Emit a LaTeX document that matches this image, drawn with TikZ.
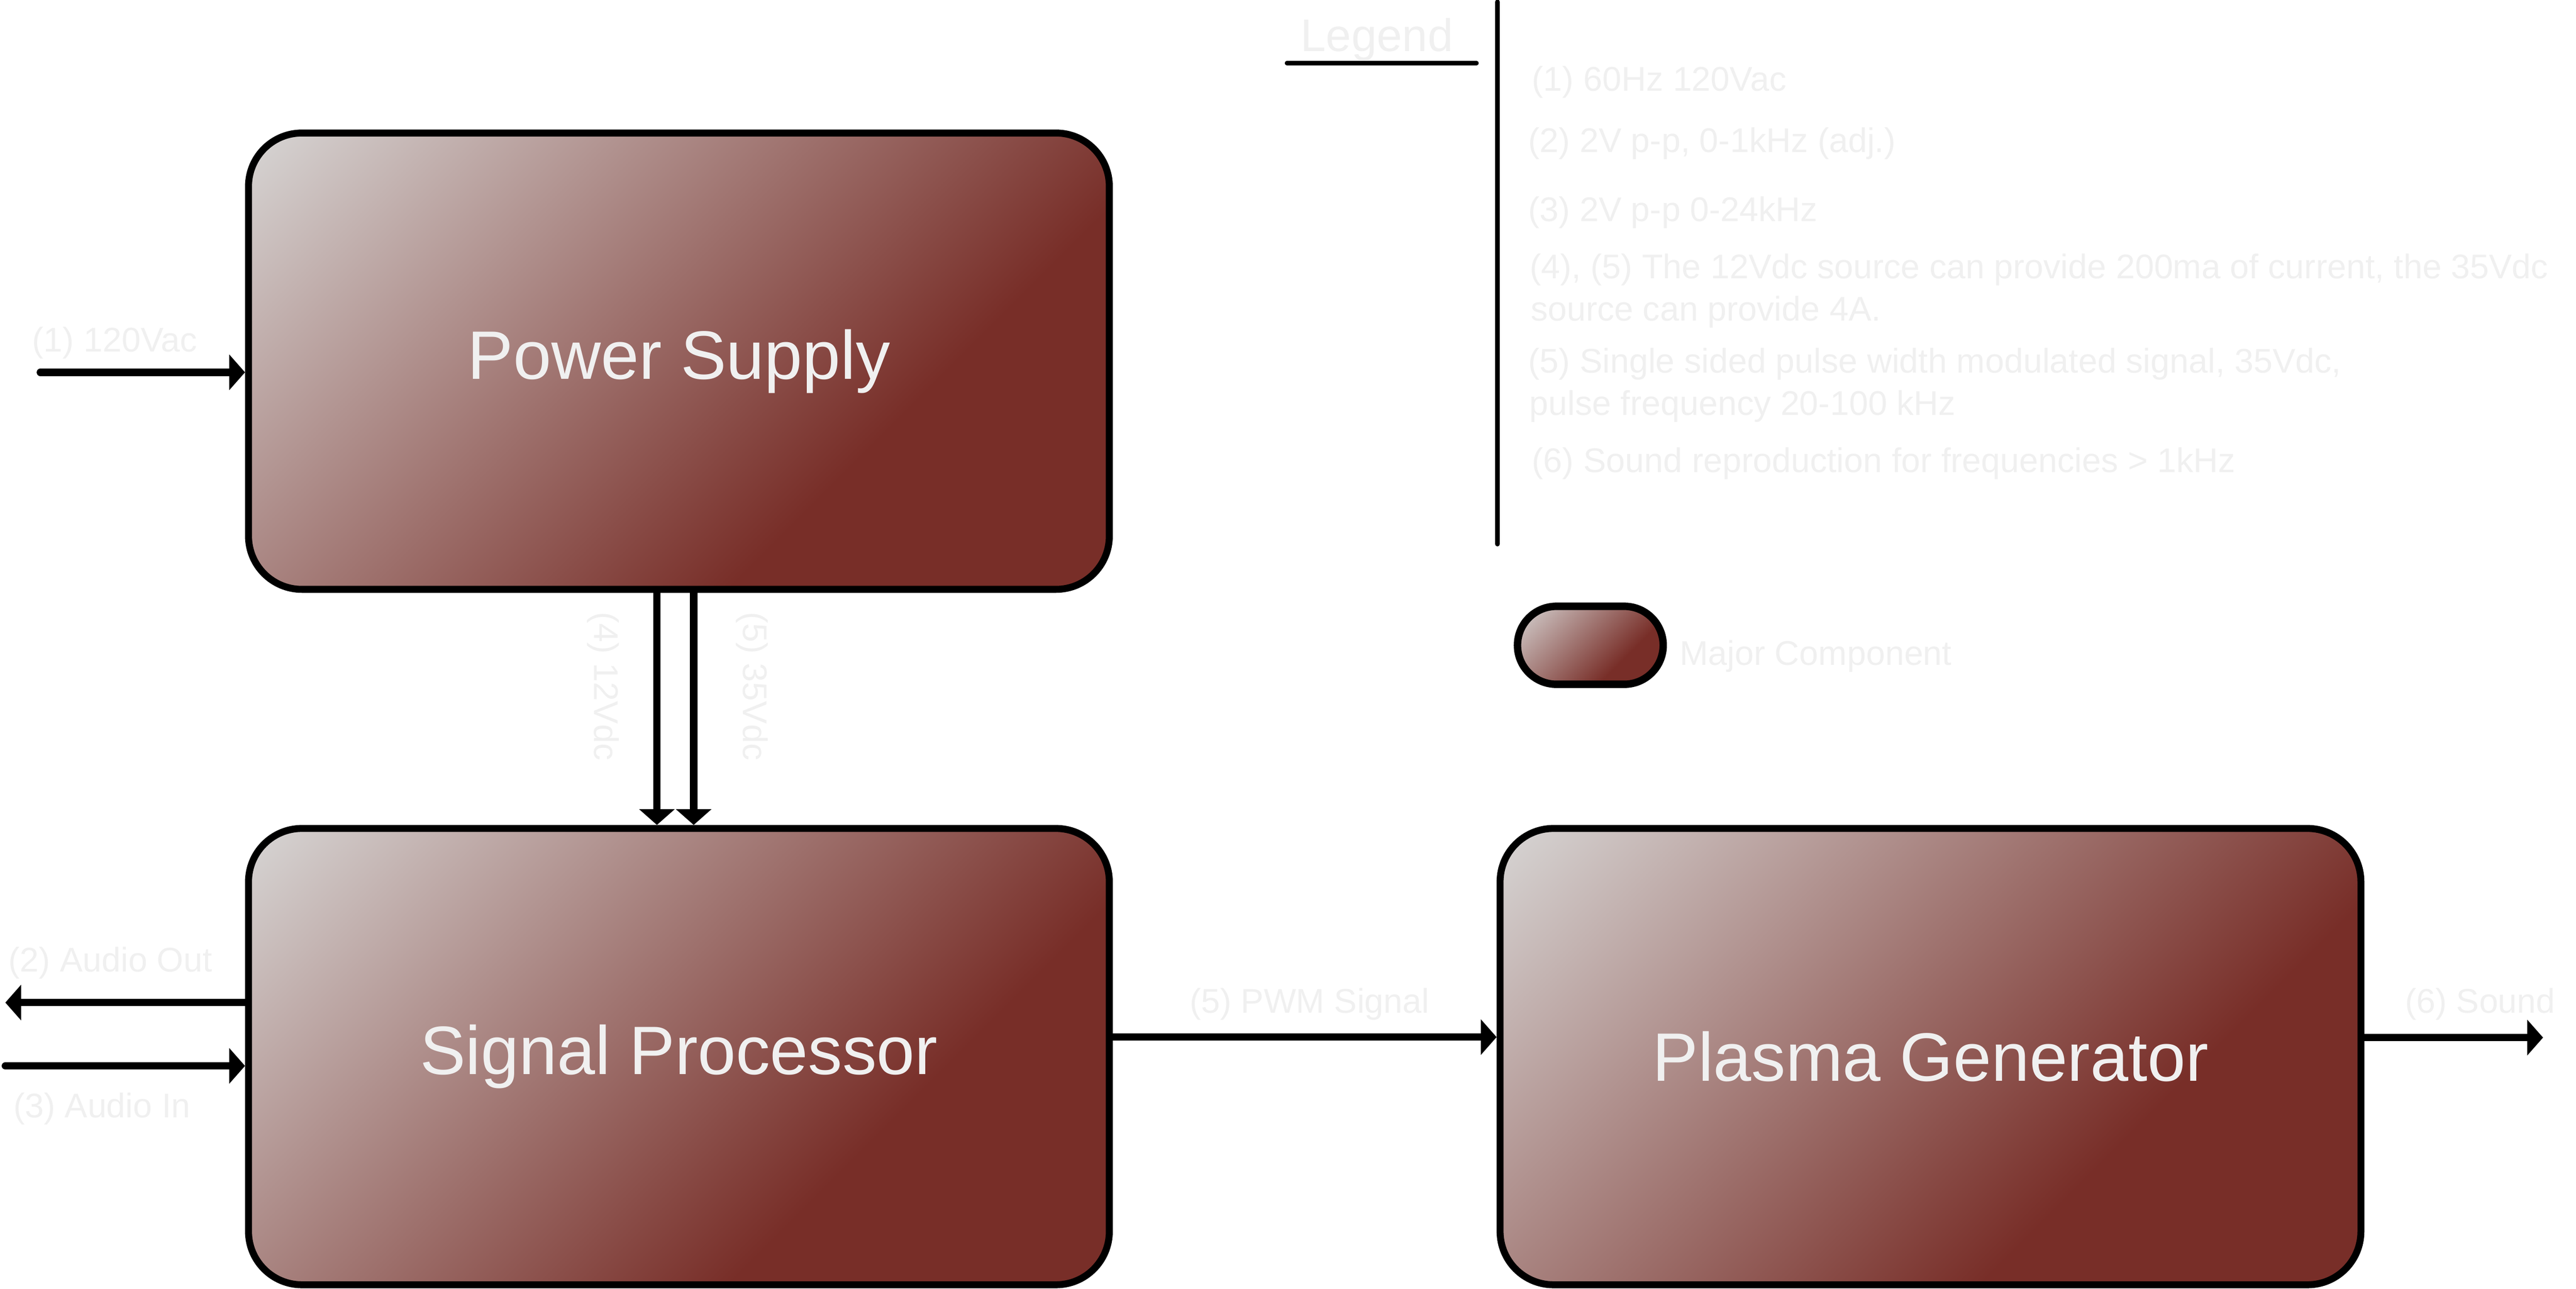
\documentclass[tikz,border=0pt]{standalone}
\usepackage{fontspec}
\setmainfont{Liberation Sans}
\usepackage{xcolor}
\usepackage{tikz}
\usetikzlibrary{arrows.meta}

\definecolor{shlight}{RGB}{214,212,211}
\definecolor{shdark}{RGB}{120,46,40}
\definecolor{lbl}{RGB}{240,240,240}
\pgfdeclareverticalshading{boxshade}{100bp}{color(0bp)=(shdark); color(35bp)=(shdark); color(85bp)=(shlight); color(100bp)=(shlight)}

\begin{document}
\begin{tikzpicture}
				\tikzset{
					block/.style={rounded corners=0.575cm, draw=black, line width=0.075cm, shade, shading=boxshade, shading angle=45, minimum width=9.275cm, minimum height=4.915cm, inner sep=0pt, text=lbl, font=\fontsize{21}{25}\selectfont},
					wire/.style={line width=0.08cm, line cap=round, -{Triangle[length=1.7mm,width=3.75mm]}},
					lab/.style={inner sep=0pt, text=lbl, font=\fontsize{10.5}{13}\selectfont}
				}
				\useasboundingbox (0,0) rectangle (27.755,-13.88);
				
				% ---- Blocks ----
				\node[block] (psu) at (7.315,-3.89) {Power Supply};
				\node[block] (sig) at (7.315,-11.38) {Signal Processor};
				\node[block] (gen) at (20.80,-11.38) {Plasma Generator};
				
				% ---- Mains in ----
				\coordinate (acin) at (0.435,-4.01);
				\draw[wire] (acin) -- (acin -| psu.west);
				\node[lab, anchor=base west] (l1) at (0.34,-3.79) {(1) 120Vac};
				
				% ---- Supply rails (4), (5) ----
				\coordinate (r12) at ([xshift=-0.237cm]psu.south);
				\coordinate (r35) at ([xshift=0.159cm]psu.south);
				\draw[wire] (r12) -- (r12 |- sig.north);
				\draw[wire] (r35) -- (r35 |- sig.north);
				\node[lab, rotate=-90] (l4) at (6.50,-7.39) {(4) 12Vdc};
				\node[lab, rotate=-90] (l5) at (8.10,-7.39) {(5) 35Vdc};
				
				% ---- Audio out / in ----
				\coordinate (aout) at (0.0575,-10.798);
				\coordinate (ain) at (0.058,-11.48);
				\draw[wire] (aout -| sig.west) -- (aout);
				\draw[wire] (ain) -- (ain -| sig.west);
				\node[lab, anchor=base west] (l2) at (0.085,-10.465) {(2) Audio Out};
				\node[lab, anchor=base west] (l3) at (0.1375,-12.035) {(3) Audio In};
				
				% ---- PWM and sound ----
				\coordinate (pwm) at (14,-11.17);
				\coordinate (snd) at (27.40,-11.175);
				\draw[wire] (pwm -| sig.east) -- (pwm -| gen.west);
				\draw[wire] (snd -| gen.east) -- (snd);
				\node[lab, anchor=base] (l5b) at (14.11,-10.91) {(5) PWM Signal};
				\node[lab, anchor=base west] (l6) at (25.905,-10.91) {(6) Sound};
				
				% ---- Legend ----
				\node[lab, font=\fontsize{14}{17}\selectfont, anchor=base] (legt) at (14.835,-0.55) {Legend};
				\coordinate (ul1) at (13.865,-0.68);
				\coordinate (ul2) at (15.91,-0.68);
				\draw[line width=0.045cm, line cap=round] (ul1) -- (ul2);
				\coordinate (sep1) at (16.135,-0.02);
				\coordinate (sep2) at (16.135,-5.86);
				\draw[line width=0.05cm, line cap=round] (sep1) -- (sep2);
				
				\node[lab, anchor=base west] (k1) at (16.50,-0.98) {(1) 60Hz 120Vac};
				\node[lab, anchor=base west] (k2) at (16.46,-1.64) {(2) 2V p-p, 0-1kHz (adj.)};
				\node[lab, anchor=base west] (k3) at (16.46,-2.385) {(3) 2V p-p 0-24kHz};
				\node[lab, anchor=base west] (k4) at (16.475,-3.00) {(4), (5) The 12Vdc source can provide 200ma of current, the 35Vdc};
				\node[lab, anchor=base west] (k4b) at (16.485,-3.455) {source can provide 4A.};
				\node[lab, anchor=base west] (k5) at (16.46,-4.015) {(5) Single sided pulse width modulated signal, 35Vdc,};
				\node[lab, anchor=base west] (k5b) at (16.47,-4.47) {pulse frequency 20-100 kHz};
				\node[lab, anchor=base west] (k6) at (16.50,-5.085) {(6) Sound reproduction for frequencies > 1kHz};
				
				% ---- Major component key ----
				\node[block, minimum width=1.57cm, minimum height=0.84cm, rounded corners=0.42cm, line width=0.08cm] (mark) at (17.135,-6.95) {};
				\node[lab, anchor=base west] (markl) at (18.09,-7.165) {Major Component};
			\end{tikzpicture}
\end{document}
